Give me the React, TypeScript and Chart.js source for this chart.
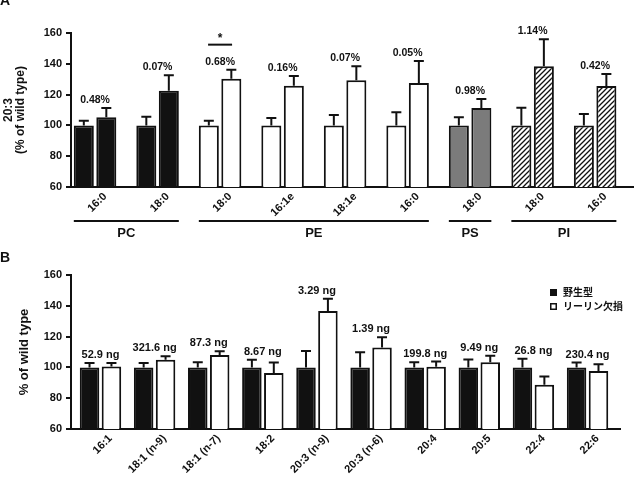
import React, { useEffect, useRef } from 'react';
import { Chart, registerables } from 'chart.js';

Chart.register(...registerables);

const FONT = "'Liberation Sans', Arial, 'Noto Sans CJK JP', sans-serif";
const INK = '#111';

// ---------- Panel A data ----------
const categoriesA = ['16:0', '18:0', '18:0', '16:1e', '18:1e', '16:0', '18:0', '18:0', '16:0'];
const lipidClassOfA = ['PC', 'PC', 'PE', 'PE', 'PE', 'PE', 'PS', 'PI', 'PI'];
const lipidClassesA = ['PC', 'PE', 'PS', 'PI'];
const wildTypeA = [100, 100, 100, 100, 100, 100, 100, 100, 100];
const wildTypeErrA = [3, 5.6, 3, 4.8, 6.8, 8.5, 5.3, 11.5, 7.4];
const reelerA = [105.3, 122.5, 130.3, 125.8, 129.3, 127.5, 111.3, 138.4, 125.6];
const reelerErrA = [6, 10, 5.9, 6.2, 9.1, 14.3, 5.8, 17.5, 7.8];
const percentLabelsA = ['0.48%', '0.07%', '0.68%', '0.16%', '0.07%', '0.05%', '0.98%', '1.14%', '0.42%'];
const significantA = [2];

// ---------- Panel B data ----------
const categoriesB = ['16:1', '18:1 (n-9)', '18:1 (n-7)', '18:2', '20:3 (n-9)', '20:3 (n-6)', '20:4', '20:5', '22:4', '22:6'];
const wildTypeB = [100, 100, 100, 100, 100, 100, 100, 100, 100, 100];
const wildTypeErrB = [2.8, 2.8, 3.4, 4.9, 10.7, 9.9, 3.4, 5.1, 5.6, 3.2];
const reelerB = [100.6, 104.9, 108, 96.3, 136.7, 112.9, 100.4, 103.4, 88.7, 97.6];
const reelerErrB = [2.2, 2.4, 2.5, 6.9, 7.9, 6.7, 3.4, 4.1, 5.4, 4.5];
const amountLabelsB = ['52.9 ng', '321.6 ng', '87.3 ng', '8.67 ng', '3.29 ng', '1.39 ng', '199.8 ng', '9.49 ng', '26.8 ng', '230.4 ng'];
const seriesNames = ['野生型', 'リーリン欠損'];

const yMin = 60;
const yMax = 160;
const yStep = 20;

function makeHatch(): CanvasPattern | string {
  const c = document.createElement('canvas');
  c.width = 5;
  c.height = 5;
  const g = c.getContext('2d');
  if (!g) return '#fff';
  g.fillStyle = '#fff';
  g.fillRect(0, 0, 5, 5);
  g.strokeStyle = INK;
  g.lineWidth = 1.3;
  g.beginPath();
  g.moveTo(-1, 6);
  g.lineTo(6, -1);
  g.moveTo(-1, 1);
  g.lineTo(1, -1);
  g.moveTo(4, 6);
  g.lineTo(6, 4);
  g.stroke();
  return g.createPattern(c, 'repeat') || '#fff';
}

function groupTops(a: number[], ae: number[], b: number[], be: number[]) {
  return a.map((v, i) => Math.max(v + ae[i], b[i] + be[i]));
}

function drawErrorBars(chart: any, values: number[][], errs: number[][]) {
  const { ctx } = chart;
  const ys = chart.scales.y;
  ctx.save();
  ctx.strokeStyle = INK;
  ctx.lineWidth = 2;
  values.forEach((vals, d) => {
    const meta = chart.getDatasetMeta(d);
    meta.data.forEach((bar: any, i: number) => {
      const top = ys.getPixelForValue(vals[i] + errs[d][i]);
      ctx.beginPath();
      ctx.moveTo(bar.x, bar.y);
      ctx.lineTo(bar.x, top);
      ctx.moveTo(bar.x - 5, top);
      ctx.lineTo(bar.x + 5, top);
      ctx.stroke();
    });
  });
  ctx.restore();
}

function xScaleOpts(cats: string[], min: number, max: number, height: number, labelOffset: number) {
  return {
    type: 'linear',
    min,
    max,
    offset: false,
    z: 1,
    grid: { display: false, drawTicks: false, offset: false },
    border: { display: true, color: INK, width: 2 },
    afterBuildTicks: (s: any) => {
      s.ticks = cats.map((_, i) => ({ value: i }));
    },
    ticks: {
      autoSkip: false,
      minRotation: 45,
      maxRotation: 45,
      padding: 3,
      labelOffset,
      color: INK,
      font: { family: FONT, size: 11, weight: 'bold' },
      callback: (v: any) => cats[Math.round(Number(v))] ?? '',
    },
    afterFit: (s: any) => {
      s.height = height;
    },
  };
}

function yScaleOpts(title: string | string[], size: number, pad: number) {
  return {
    type: 'linear',
    min: yMin,
    max: yMax,
    z: 1,
    ticks: { stepSize: yStep, color: INK, padding: 4, font: { family: FONT, size: 11, weight: 'bold' } },
    grid: { display: true, drawOnChartArea: false, drawTicks: true, tickLength: 5, color: INK, lineWidth: 2 },
    border: { display: true, color: INK, width: 2 },
    title: {
      display: true,
      text: title,
      color: INK,
      font: { family: FONT, size, weight: 'bold', lineHeight: 1 },
      padding: { top: pad, bottom: 0 },
    },
    afterFit: (s: any) => {
      s.width = 71;
    },
  };
}

function buildA(canvas: HTMLCanvasElement) {
  const hatch = makeHatch();
  const classFill: Record<string, any> = { PC: INK, PE: '#fff', PS: '#7b7b7b', PI: hatch };
  const fillFor = (c: any) => classFill[lipidClassOfA[c.dataIndex]];
  const tops = groupTops(wildTypeA, wildTypeErrA, reelerA, reelerErrA);

  const plugin = {
    id: 'panelA',
    afterDatasetsDraw(chart: any) {
      drawErrorBars(chart, [wildTypeA, reelerA], [wildTypeErrA, reelerErrA]);
    },
    afterDraw(chart: any) {
      const { ctx, chartArea } = chart;
      const xs = chart.scales.x;
      const ys = chart.scales.y;
      ctx.save();
      ctx.fillStyle = INK;
      ctx.strokeStyle = INK;
      ctx.textAlign = 'center';
      ctx.textBaseline = 'middle';
      ctx.font = `bold 10.5px ${FONT}`;
      percentLabelsA.forEach((t, i) => {
        ctx.fillText(t, xs.getPixelForValue(i), ys.getPixelForValue(tops[i]) - 8);
      });
      significantA.forEach((i) => {
        const cx = xs.getPixelForValue(i);
        const ly = ys.getPixelForValue(tops[i]) - 25;
        ctx.lineWidth = 2;
        ctx.beginPath();
        ctx.moveTo(cx - 12, ly);
        ctx.lineTo(cx + 12, ly);
        ctx.stroke();
        ctx.font = `bold 12px ${FONT}`;
        ctx.fillText('*', cx, ly - 6);
      });
      lipidClassesA.forEach((name) => {
        const idx = lipidClassOfA.map((c, i) => (c === name ? i : -1)).filter((i) => i >= 0);
        const from = Math.min(...idx);
        const to = Math.max(...idx);
        const x1 = xs.getPixelForValue(from - 0.34);
        const x2 = xs.getPixelForValue(to + 0.34);
        const by = chartArea.bottom + 34;
        ctx.lineWidth = 2;
        ctx.beginPath();
        ctx.moveTo(x1, by);
        ctx.lineTo(x2, by);
        ctx.stroke();
        ctx.font = `bold 13px ${FONT}`;
        ctx.fillText(name, (x1 + x2) / 2, by + 12);
      });
      ctx.textAlign = 'left';
      ctx.textBaseline = 'alphabetic';
      ctx.font = `bold 14px ${FONT}`;
      ctx.fillText('A', 0, 5);
      ctx.restore();
    },
  };

  return new Chart(canvas, {
    type: 'bar',
    data: {
      datasets: [
        {
          label: seriesNames[0],
          data: wildTypeA.map((v, i) => ({ x: i, y: v })),
          backgroundColor: fillFor,
          borderColor: INK,
          borderWidth: 2,
          borderSkipped: 'bottom',
          categoryPercentage: 0.72,
          barPercentage: 0.89,
        },
        {
          label: seriesNames[1],
          data: reelerA.map((v, i) => ({ x: i, y: v })),
          backgroundColor: fillFor,
          borderColor: INK,
          borderWidth: 2,
          borderSkipped: 'bottom',
          categoryPercentage: 0.72,
          barPercentage: 0.89,
        },
      ],
    } as any,
    options: {
      responsive: false,
      maintainAspectRatio: false,
      animation: false,
      devicePixelRatio: 1,
      layout: { padding: { top: 33, right: 2, left: 0, bottom: 0 } },
      plugins: { legend: { display: false }, tooltip: { enabled: false } },
      scales: {
        x: xScaleOpts(categoriesA, -0.385, 8.606, 53, 10),
        y: yScaleOpts(['20:3', '(% of wild type)'], 12, 3),
      },
    } as any,
    plugins: [plugin],
  });
}

function buildB(canvas: HTMLCanvasElement) {
  const tops = groupTops(wildTypeB, wildTypeErrB, reelerB, reelerErrB);
  const fills = [INK, '#fff'];

  const plugin = {
    id: 'panelB',
    afterDatasetsDraw(chart: any) {
      drawErrorBars(chart, [wildTypeB, reelerB], [wildTypeErrB, reelerErrB]);
    },
    afterDraw(chart: any) {
      const { ctx, chartArea } = chart;
      const xs = chart.scales.x;
      const ys = chart.scales.y;
      ctx.save();
      ctx.fillStyle = INK;
      ctx.strokeStyle = INK;
      ctx.textAlign = 'center';
      ctx.textBaseline = 'middle';
      ctx.font = `bold 11px ${FONT}`;
      amountLabelsB.forEach((t, i) => {
        ctx.fillText(t, xs.getPixelForValue(i), ys.getPixelForValue(tops[i]) - 8);
      });
      // legend
      const lx = chartArea.right - 70;
      const ly = chartArea.top + 14;
      seriesNames.forEach((name, d) => {
        const y0 = ly + d * 14;
        ctx.fillStyle = fills[d];
        ctx.fillRect(lx, y0, 7, 7);
        ctx.lineWidth = 1.5;
        ctx.strokeStyle = INK;
        ctx.strokeRect(lx + 0.75, y0 + 0.75, 5.5, 5.5);
        ctx.fillStyle = INK;
        ctx.textAlign = 'left';
        ctx.font = `bold 10px ${FONT}`;
        ctx.fillText(name, lx + 13, y0 + 4);
      });
      ctx.textAlign = 'left';
      ctx.textBaseline = 'alphabetic';
      ctx.font = `bold 14px ${FONT}`;
      ctx.fillText('B', 0, 22);
      ctx.restore();
    },
  };

  return new Chart(canvas, {
    type: 'bar',
    data: {
      datasets: [
        {
          label: seriesNames[0],
          data: wildTypeB.map((v, i) => ({ x: i, y: v })),
          backgroundColor: fills[0],
          borderColor: INK,
          borderWidth: 2,
          borderSkipped: 'bottom',
          categoryPercentage: 0.81,
          barPercentage: 0.89,
        },
        {
          label: seriesNames[1],
          data: reelerB.map((v, i) => ({ x: i, y: v })),
          backgroundColor: fills[1],
          borderColor: INK,
          borderWidth: 2,
          borderSkipped: 'bottom',
          categoryPercentage: 0.81,
          barPercentage: 0.89,
        },
      ],
    } as any,
    options: {
      responsive: false,
      maintainAspectRatio: false,
      animation: false,
      devicePixelRatio: 1,
      layout: { padding: { top: 35, right: 15, left: 0, bottom: 0 } },
      plugins: { legend: { display: false }, tooltip: { enabled: false } },
      scales: {
        x: xScaleOpts(categoriesB, -0.545, 9.6, 50, 10),
        y: yScaleOpts('% of wild type', 13, 18),
      },
    } as any,
    plugins: [plugin],
  });
}

function ChartCanvas({ build, top, height }: { build: (c: HTMLCanvasElement) => Chart; top: number; height: number }) {
  const ref = useRef<HTMLCanvasElement>(null);
  useEffect(() => {
    if (!ref.current) return;
    const chart = build(ref.current);
    return () => chart.destroy();
  }, [build]);
  return (
    <canvas
      ref={ref}
      width={635}
      height={height}
      style={{ position: 'absolute', left: 0, top, width: 635, height, display: 'block' }}
    />
  );
}

export default function App() {
  return (
    <div style={{ position: 'absolute', left: 0, top: 0, width: 635, height: 479, background: '#fff', overflow: 'hidden' }}>
      <ChartCanvas build={buildA} top={0} height={240} />
      <ChartCanvas build={buildB} top={240} height={239} />
    </div>
  );
}
